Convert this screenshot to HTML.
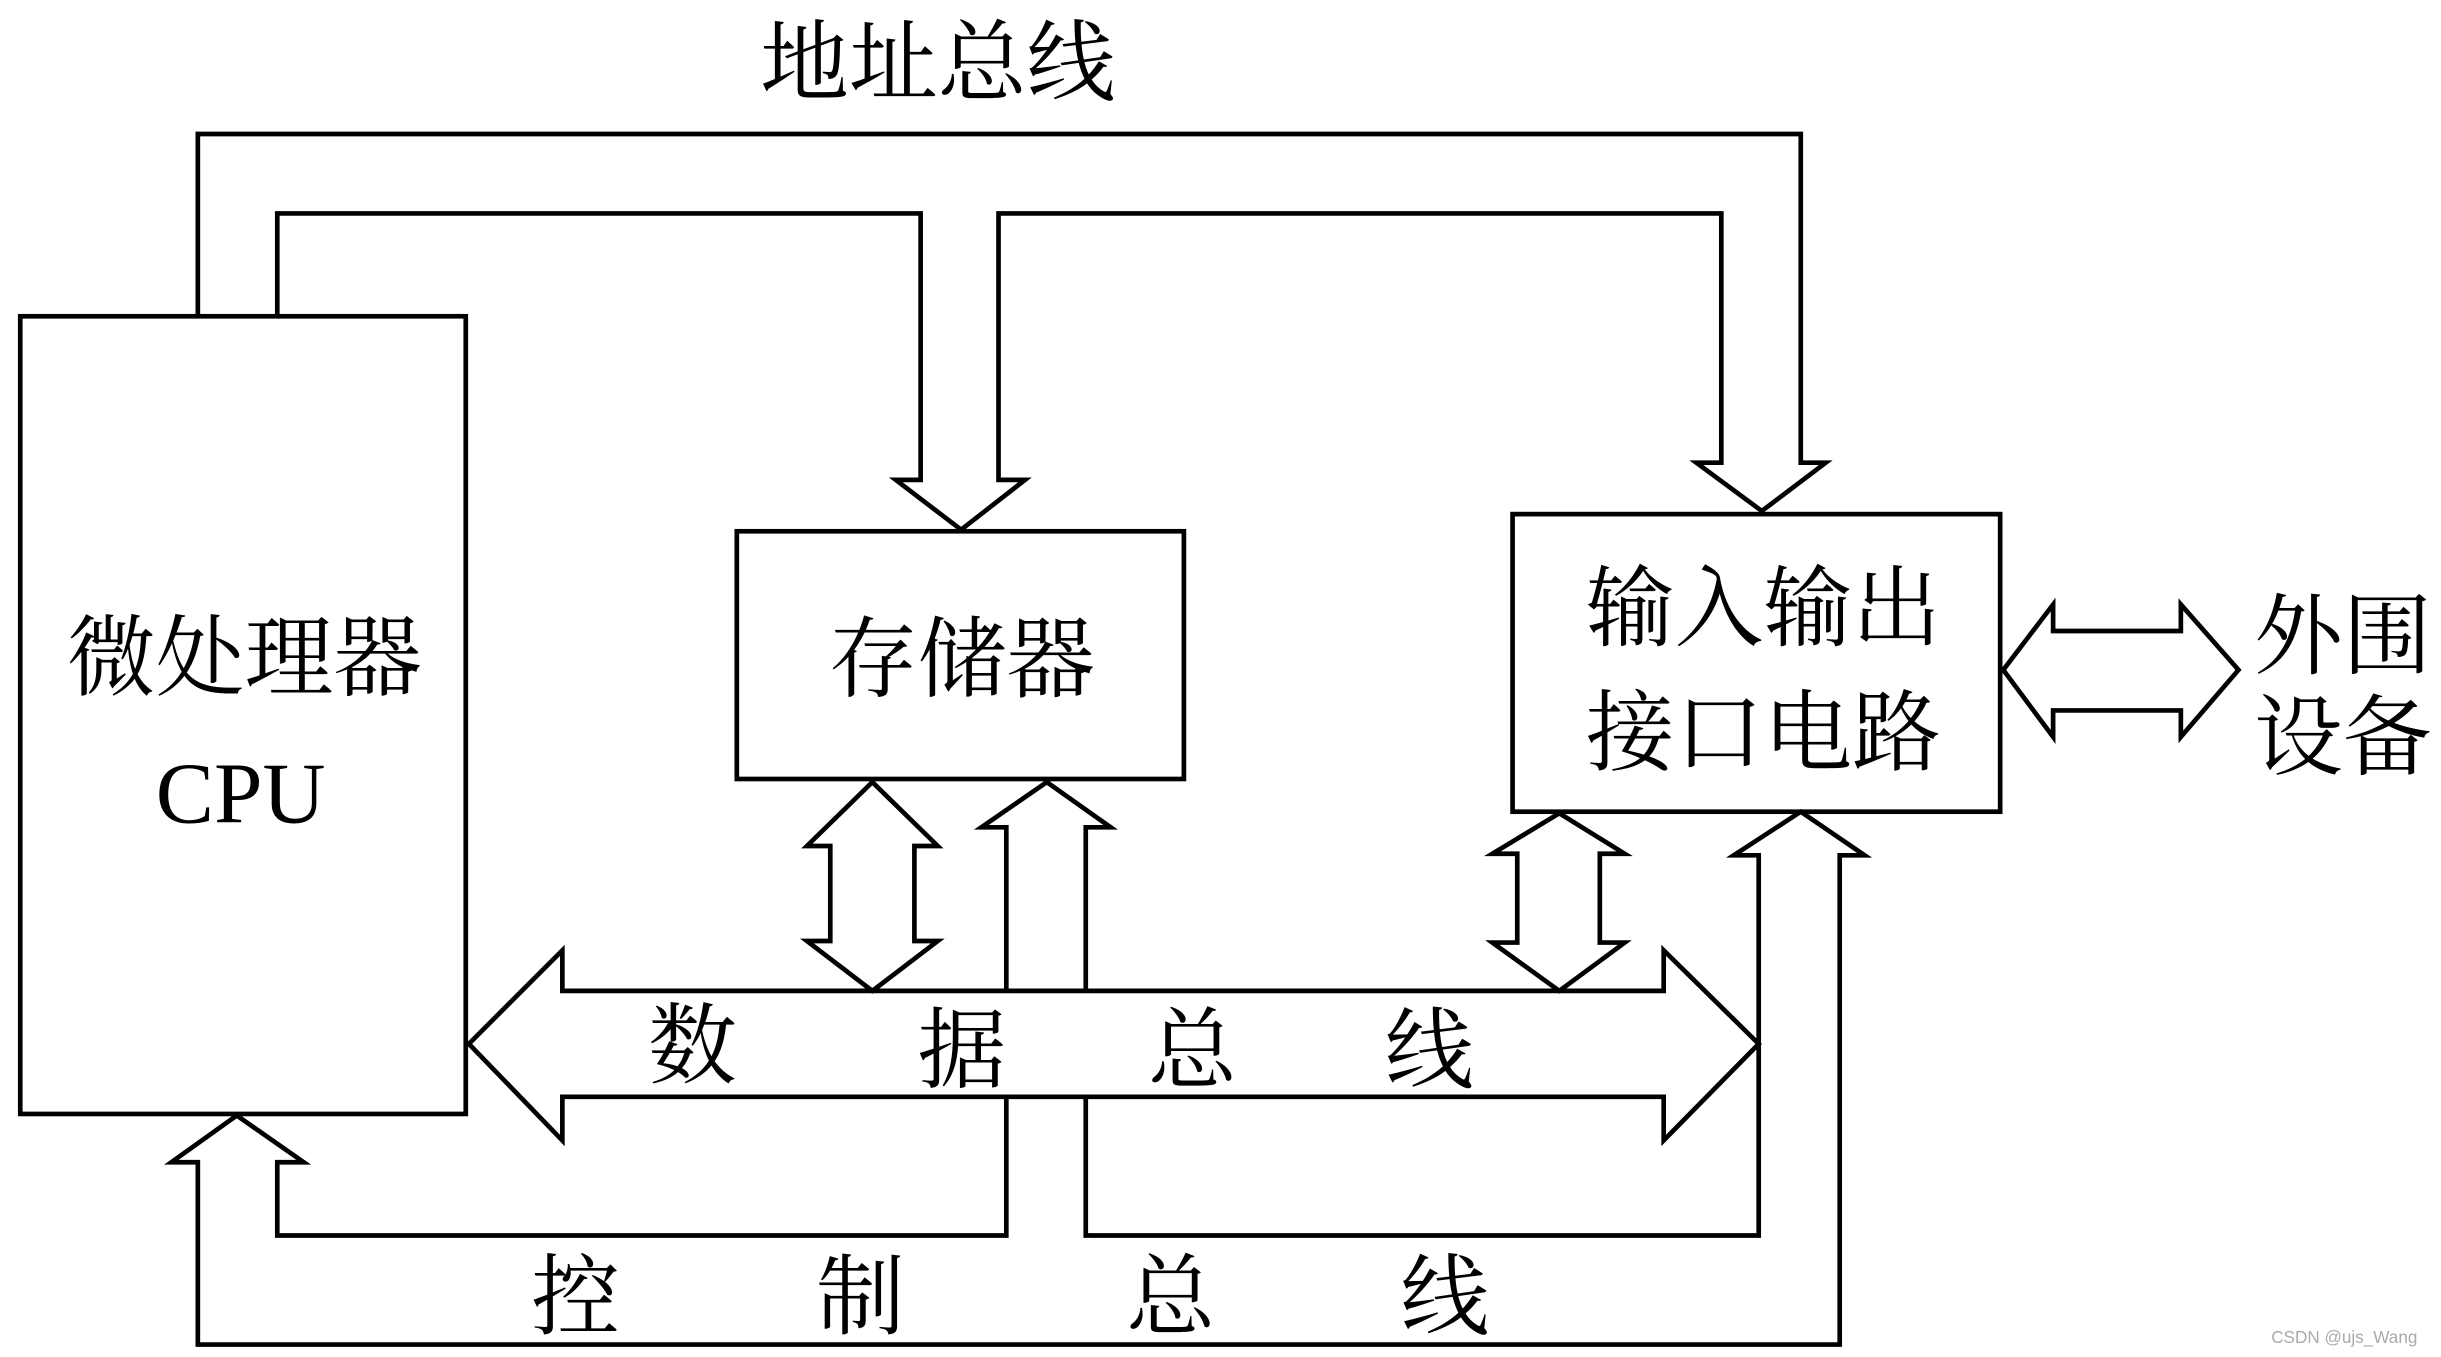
<!DOCTYPE html>
<html><head><meta charset="utf-8"><style>
html,body{margin:0;padding:0;background:#fff;}
svg{display:block;}
text{font-family:"Liberation Serif","Noto Serif CJK SC",serif;fill:#000;}
</style></head><body>
<svg width="2441" height="1357" viewBox="0 0 1567 871" preserveAspectRatio="none" xmlns="http://www.w3.org/2000/svg">
<g fill="none" stroke="#000" stroke-width="3" stroke-linejoin="miter">
<!-- address bus -->
<path d="M127,203 V86 H1156 V297 H1172 L1131,328 L1089,297 H1105 V137 H641 V308 H658 L617,340 L575,308 H591 V137 H178 V203"/>
<!-- boxes -->
<rect x="13" y="203" width="286" height="512"/>
<rect x="473" y="341" width="287" height="159"/>
<rect x="971" y="330" width="313" height="191"/>
<!-- peripheral double arrow -->
<path d="M1286,430 L1318,388 V405 H1400 V388 L1437,430 L1400,473 V456 H1318 V473 Z"/>
<!-- data bus -->
<path d="M301,670 L361,610 V636 H1068 V610 L1129,670 L1068,732 V704 H361 V732 Z"/>
<!-- memory data double arrow -->
<path d="M560,502 L602,543 H587 V604 H602 L560,636 L518,604 H533 V543 H518 Z"/>
<!-- io data double arrow -->
<path d="M1001,522 L1043,548 H1027 V605 H1043 L1001,636 L958,605 H974 V548 H958 Z"/>
<!-- memory control up arrow + control bus inner to CPU -->
<path d="M646,636 V531 H630 L672,502 L713,531 H697 V636"/>
<path d="M646,704 V793 H178 V746 H195 L152,716 L110,746 H127 V863 H1181 V549 H1197 L1156,521 L1113,549 H1129 V793 H697 V704"/>
</g>
<g font-size="57">
<text x="488" y="60">地址总线</text>
<text x="43" y="442">微处理器</text>
<text x="100" y="528" font-size="56">CPU</text>
<text x="532" y="443">存储器</text>
<text x="1018" y="410">输入输出</text>
<text x="1018" y="490">接口电路</text>
<text x="1447" y="428">外围</text>
<text x="1447" y="493">设备</text>
<text x="416" y="691">数</text>
<text x="589" y="694">据</text>
<text x="737" y="694">总</text>
<text x="889" y="694">线</text>
<text x="341" y="852">控</text>
<text x="524" y="852">制</text>
<text x="723" y="852">总</text>
<text x="899" y="852">线</text>
</g>
<text x="1458" y="862" font-size="11" style="font-family:'Liberation Sans',sans-serif;fill:#aaa">CSDN @ujs_Wang</text>
</svg>
</body></html>
